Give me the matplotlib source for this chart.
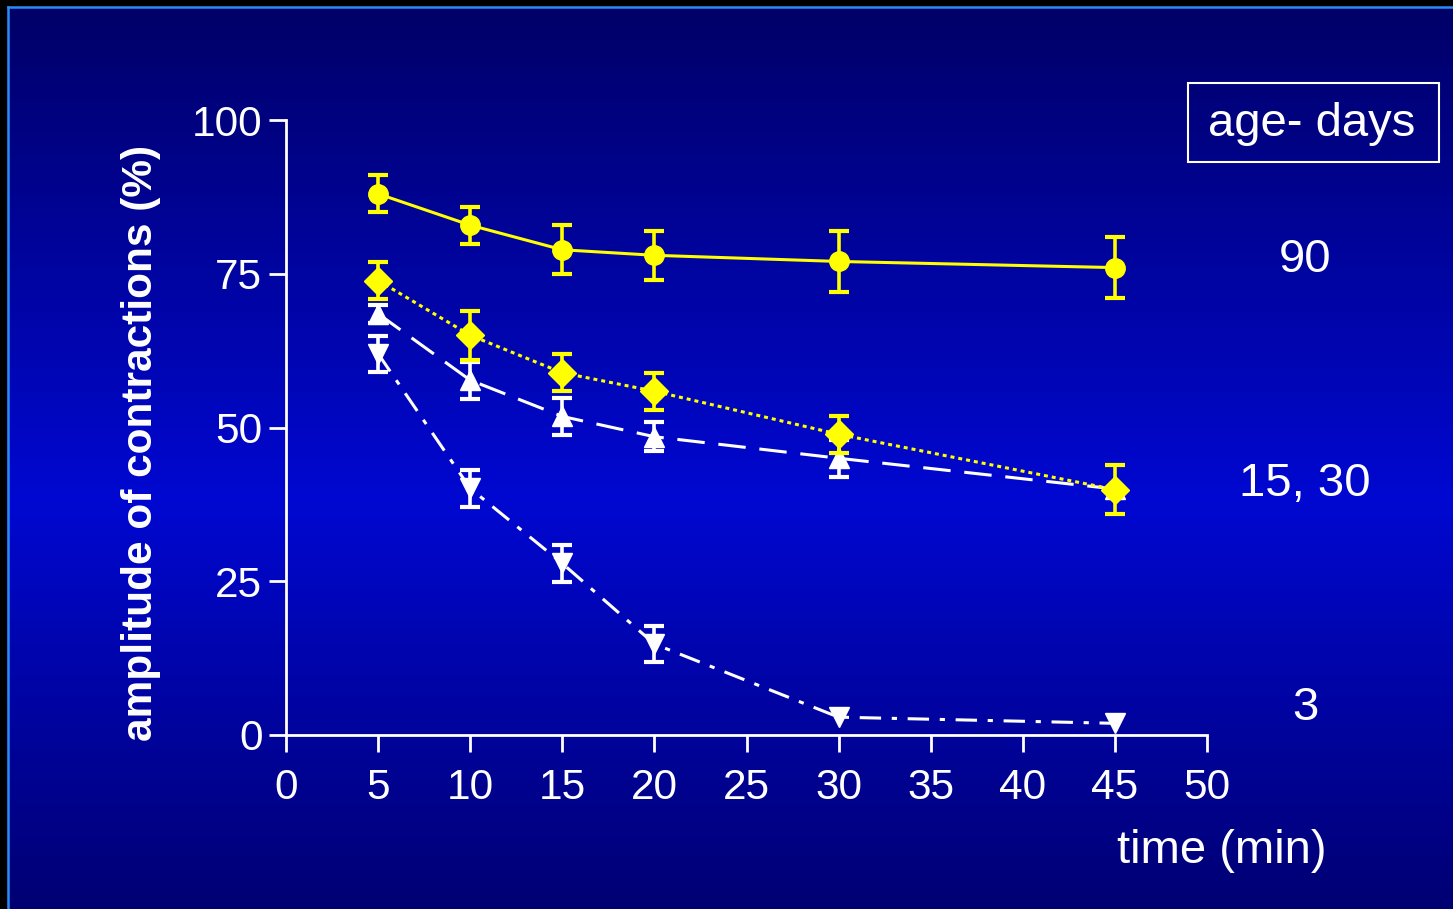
import matplotlib
matplotlib.use('Agg')
import matplotlib.pyplot as plt
from matplotlib.colors import LinearSegmentedColormap
from matplotlib.patches import Rectangle
import numpy as np

# data
time_min = [5, 10, 15, 20, 30, 45]
age90 = [88.0, 82.9, 78.9, 78.0, 77.0, 76.0]
age90_err = [3, 3, 4, 4, 5, 5]
age30 = [73.9, 65.0, 58.9, 55.9, 48.9, 39.9]
age30_err = [3, 4, 3, 3, 3, 4]
age15 = [68.5, 57.7, 51.8, 48.5, 45.0, 40.0]
age15_err = [1.5, 3, 3, 2.4, 3, 0]
age3 = [62.0, 40.1, 27.9, 14.8, 2.9, 1.9]
age3_err = [2.9, 3, 3, 3, 0, 0]

xticks = [0, 5, 10, 15, 20, 25, 30, 35, 40, 45, 50]
yticks = [0, 25, 50, 75, 100]

plt.rcParams['font.family'] = ['Liberation Sans', 'DejaVu Sans']

fig = plt.figure(figsize=(14.53, 9.09), dpi=100)

# background gradient (dark navy top/bottom, brighter blue in the middle)
bg = fig.add_axes([0, 0, 1, 1], zorder=-10)
cmap = LinearSegmentedColormap.from_list(
    'bg', [(0.0, (0, 0, 0.40)), (0.55, (0, 0.03, 0.82)), (1.0, (0, 0, 0.45))])
grad = np.linspace(0, 1, 256).reshape(-1, 1)
bg.imshow(grad, aspect='auto', cmap=cmap, extent=[0, 1, 1, 0])
bg.set_xlim(0, 1)
bg.set_ylim(1, 0)
bg.axis('off')
# black strip + light blue frame at top and left
W, H = 1453, 909
bg.add_patch(Rectangle((0, 0), 7 / W, 1, color='black', lw=0))
bg.add_patch(Rectangle((0, 0), 1, 7 / H, color='black', lw=0))
bg.plot([7.5 / W, 7.5 / W], [7.5 / H, 1], color='#2a8cf0', lw=1.8)
bg.plot([7.5 / W, 1], [7.5 / H, 7.5 / H], color='#2a8cf0', lw=1.8)

ax = fig.add_axes([286 / W, 1 - 735 / H, (1207 - 286) / W, (735 - 120) / H])
ax.patch.set_alpha(0)

ax.set_xlim(0, 50)
ax.set_ylim(0, 100)
for s in ['top', 'right']:
    ax.spines[s].set_visible(False)
for s in ['left', 'bottom']:
    ax.spines[s].set_color('white')
    ax.spines[s].set_linewidth(2)

ax.set_xticks(xticks)
ax.set_yticks(yticks)
ax.tick_params(colors='white', width=2, length=12, labelsize=30.5)
ax.tick_params(axis='x', pad=12)
ax.tick_params(axis='y', pad=5)

def draw(y, err, color, marker, ls, z):
    x = np.array(time_min)
    y = np.array(y)
    err = np.array(err)
    ax.plot(x, y, color=color, ls=ls, lw=2.2, zorder=z)
    m = err > 0
    ax.errorbar(x[m], y[m], yerr=err[m], fmt='none', ecolor=color,
                elinewidth=2.6, capsize=7.5, capthick=3, zorder=z + 0.1)
    ax.plot(x, y, ls='none', marker=marker, color=color, ms=14, zorder=z + 0.2)

draw(age3, age3_err, 'white', 'v', (0, (7, 3.5, 1.7, 3.5)), 2)
draw(age15, age15_err, 'white', '^', (0, (9, 4.5)), 3)
draw(age30, age30_err, '#ffff00', 'D', (0, (1.3, 1.3)), 4)
draw(age90, age90_err, '#ffff00', 'o', '-', 5)

ax.set_ylabel('amplitude of contractions (%)', color='white', fontsize=30.5,
              fontweight='bold')
ax.yaxis.set_label_coords(-0.136, 0.475)

fig.text(1222 / W, 1 - 851 / H, 'time (min)', color='white', fontsize=34,
         ha='center', va='center')
fig.text(1312 / W, 1 - 124 / H, 'age- days', color='white', fontsize=34,
         ha='center', va='center')
bg.add_patch(Rectangle((1188 / W, 83 / H), (1439 - 1188) / W, (162 - 83) / H,
                       fill=False, edgecolor='white', lw=1.5))
fig.text(1305 / W, 1 - 260 / H, '90', color='white', fontsize=34,
         ha='center', va='center')
fig.text(1305 / W, 1 - 484 / H, '15, 30', color='white', fontsize=34,
         ha='center', va='center')
fig.text(1305 / W, 1 - 708 / H, '3', color='white', fontsize=34,
         ha='center', va='center')

plt.savefig('out.png', dpi=100)
